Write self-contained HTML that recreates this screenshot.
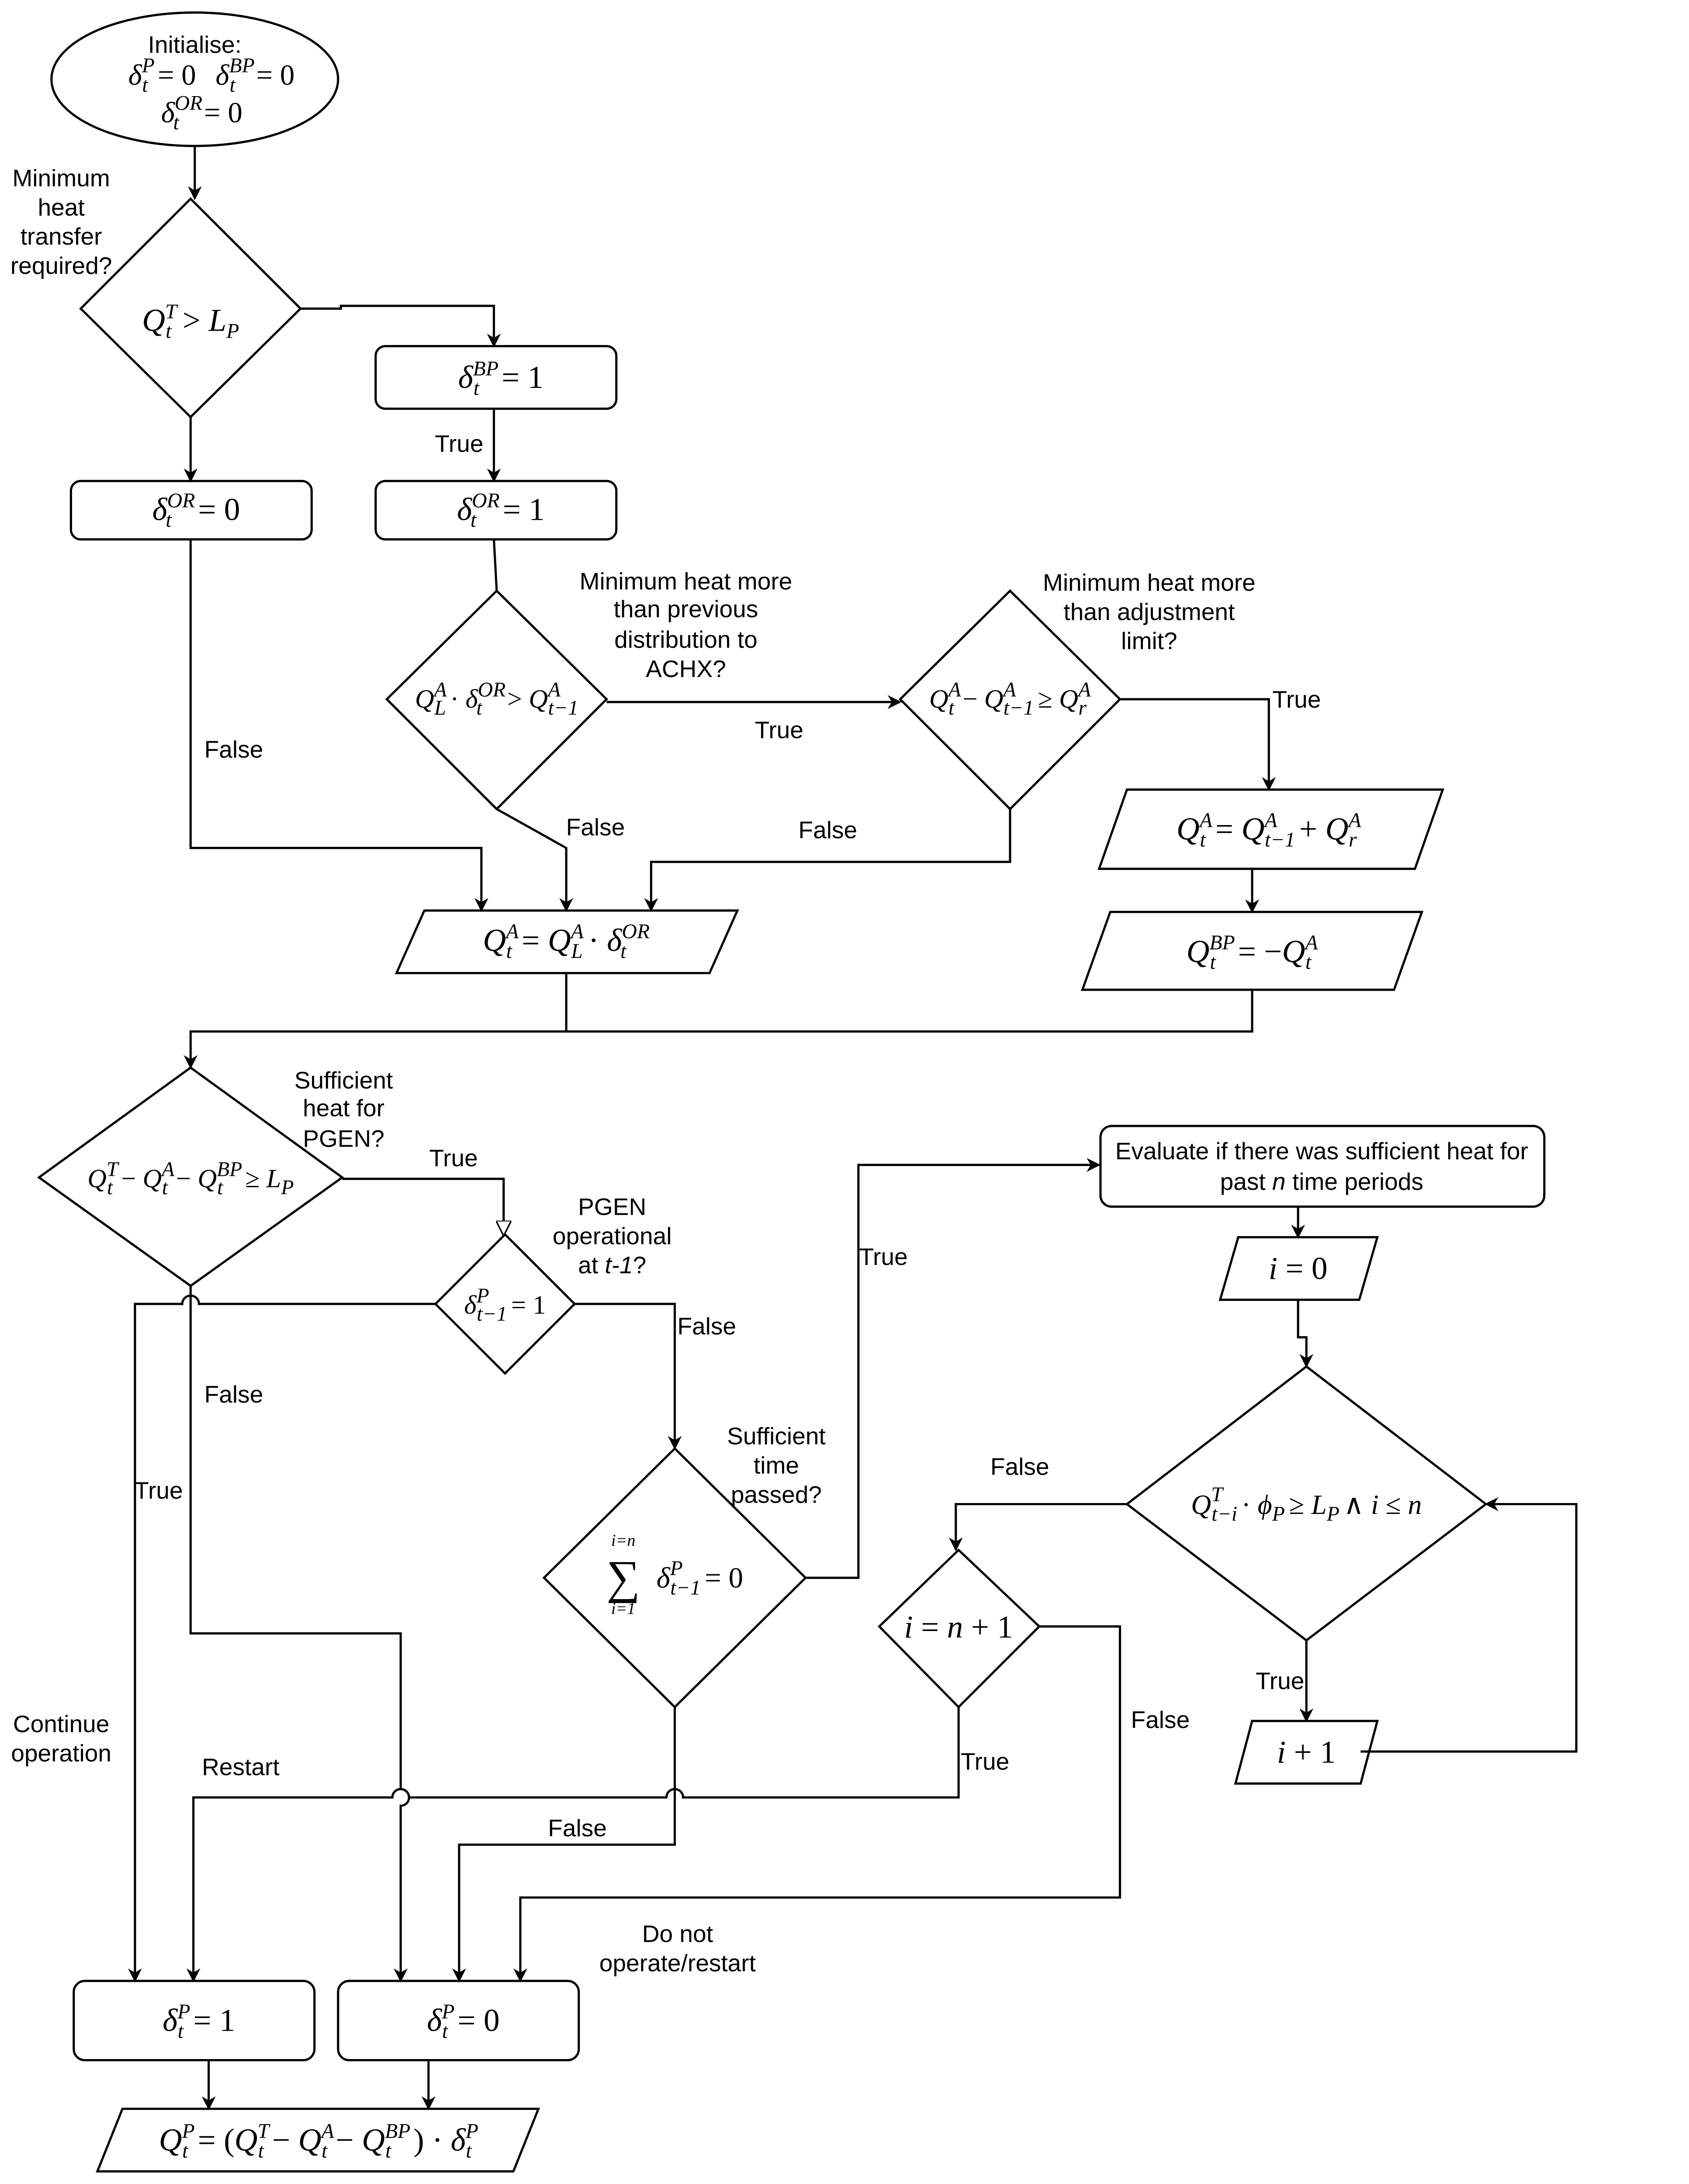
<!DOCTYPE html>
<html><head><meta charset="utf-8"><style>
html,body{margin:0;padding:0;background:#fff;width:3866px;height:5353px;overflow:hidden}
svg{display:block;width:3866px;height:5353px}
.t{font-family:"Liberation Sans",sans-serif;font-size:17.3px;fill:#000}
.m{font-family:"Liberation Serif",serif;font-style:italic;font-size:23px;fill:#000}
.n{font-style:normal}
.s{font-size:15px}
</style></head><body>
<svg width="3866" height="5353" viewBox="0 0 1214 1682" preserveAspectRatio="none" xmlns="http://www.w3.org/2000/svg">
<defs>
<marker id="a" viewBox="0 0 10 10" refX="9" refY="5" markerWidth="10" markerHeight="10" orient="auto" markerUnits="userSpaceOnUse"><path d="M0,0 L10,5 L0,10 L3,5 z" fill="#000"/></marker>
<marker id="h" viewBox="0 0 10 10" refX="9" refY="5" markerWidth="11" markerHeight="11" orient="auto" markerUnits="userSpaceOnUse"><path d="M0,0 L10,5 L0,10 z" fill="#fff" stroke="#000" stroke-width="1"/></marker>
</defs>
<g fill="none" stroke="#000" stroke-width="1.6">
<ellipse cx="140" cy="57" rx="103" ry="48" fill="#fff"/>
<polygon points="137,143 216,222 137,300 58,222" fill="#fff"/>
<rect x="270" y="249" width="173" height="45" rx="7" fill="#fff"/>
<rect x="270" y="346" width="173" height="42" rx="7" fill="#fff"/>
<rect x="51" y="346" width="173" height="42" rx="7" fill="#fff"/>
<polygon points="357,425 436,503 357,582 278,503" fill="#fff"/>
<polygon points="726,425 805,503 726,582 647,503" fill="#fff"/>
<polygon points="810,568 1037,568 1017,625 790,625" fill="#fff"/>
<polygon points="798,656 1022,656 1002,712 778,712" fill="#fff"/>
<polygon points="305,655 530,655 510,700 285,700" fill="#fff"/>
<polygon points="137,768 246,847 137,925 28,847" fill="#fff"/>
<polygon points="363,888 413,938 363,988 313,938" fill="#fff"/>
<polygon points="485,1042 579,1135 485,1228 391,1135" fill="#fff"/>
<rect x="791" y="810" width="319" height="58" rx="8" fill="#fff"/>
<polygon points="890,890 990,890 977,935 877,935" fill="#fff"/>
<polygon points="939,983 1068,1082 939,1180 810,1082" fill="#fff"/>
<polygon points="900,1238 990,1238 978,1283 888,1283" fill="#fff"/>
<polygon points="689,1115 747,1170 689,1228 632,1170" fill="#fff"/>
<rect x="53" y="1425" width="173" height="57" rx="8" fill="#fff"/>
<rect x="243" y="1425" width="173" height="57" rx="8" fill="#fff"/>
<polygon points="88,1517 387,1517 369,1562 70,1562" fill="#fff"/>
<path d="M140,105 V143" marker-end="url(#a)"/>
<path d="M216,222 H245 V220 H355 V249" marker-end="url(#a)"/>
<path d="M355,294 V346" marker-end="url(#a)"/>
<path d="M137,300 V346" marker-end="url(#a)"/>
<path d="M137,388 V610 H346 V655" marker-end="url(#a)"/>
<path d="M355,388 L357,425"/>
<path d="M436,505 H647" marker-end="url(#a)"/>
<path d="M357,582 L407,610 V655" marker-end="url(#a)"/>
<path d="M726,582 V620 H468 V655" marker-end="url(#a)"/>
<path d="M805,503 H912 V568" marker-end="url(#a)"/>
<path d="M900,625 V656" marker-end="url(#a)"/>
<path d="M407,700 V742 M900,712 V742 H137 V768" marker-end="url(#a)"/>
<path d="M246,848 H362 V888" marker-end="url(#h)"/>
<path d="M313,938 H143 a6,6 0 0 0 -12,0 H97 V1425" marker-end="url(#a)"/>
<path d="M413,938 H485 V1042" marker-end="url(#a)"/>
<path d="M137,925 V1175 H288 V1287 a6,6 0 0 1 0,12 V1425" marker-end="url(#a)"/>
<path d="M579,1135 H617 V838 H790" marker-end="url(#a)"/>
<path d="M933,868 V890" marker-end="url(#a)"/>
<path d="M933,935 V962 H939 V983" marker-end="url(#a)"/>
<path d="M810,1082 H687 V1115" marker-end="url(#a)"/>
<path d="M939,1180 V1238" marker-end="url(#a)"/>
<path d="M978,1260 H1133 V1082 H1068" marker-end="url(#a)"/>
<path d="M747,1170 H805 V1365 H374 V1425" marker-end="url(#a)"/>
<path d="M689,1228 V1293 H491 a6,6 0 0 0 -12,0 H294 a6,6 0 0 0 -12,0 H139 V1425" marker-end="url(#a)"/>
<path d="M485,1228 V1327 H330 V1425" marker-end="url(#a)"/>
<path d="M150,1482 V1517" marker-end="url(#a)"/>
<path d="M308,1482 V1517" marker-end="url(#a)"/>
</g>
<g class="t" text-anchor="middle">
<text x="140" y="38">Initialise:</text>
<text x="44" y="134">Minimum</text><text x="44" y="155">heat</text><text x="44" y="176">transfer</text><text x="44" y="197">required?</text>
<text x="330" y="325">True</text>
<text x="168" y="545">False</text>
<text x="493" y="424">Minimum heat more</text><text x="493" y="444">than previous</text><text x="493" y="466">distribution to</text><text x="493" y="487">ACHX?</text>
<text x="826" y="425">Minimum heat more</text><text x="826" y="446">than adjustment</text><text x="826" y="467">limit?</text>
<text x="560" y="531">True</text>
<text x="932" y="509">True</text>
<text x="428" y="601">False</text>
<text x="595" y="603">False</text>
<text x="247" y="783">Sufficient</text><text x="247" y="803">heat for</text><text x="247" y="825">PGEN?</text>
<text x="326" y="839">True</text>
<text x="440" y="874">PGEN</text><text x="440" y="895">operational</text><text x="440" y="916">at <tspan font-style="italic">t-1</tspan>?</text>
<text x="508" y="960">False</text>
<text x="168" y="1009">False</text>
<text x="114" y="1078">True</text>
<text x="558" y="1039">Sufficient</text><text x="558" y="1060">time</text><text x="558" y="1081">passed?</text>
<text x="635" y="910">True</text>
<text x="950" y="834">Evaluate if there was sufficient heat for</text>
<text x="950" y="856">past <tspan font-style="italic">n</tspan> time periods</text>
<text x="733" y="1061">False</text>
<text x="920" y="1215">True</text>
<text x="834" y="1243">False</text>
<text x="708" y="1273">True</text>
<text x="415" y="1321">False</text>
<text x="44" y="1246">Continue</text><text x="44" y="1267">operation</text>
<text x="173" y="1277">Restart</text>
<text x="487" y="1397">Do not</text><text x="487" y="1418">operate/restart</text>
</g>
<g class="m" text-anchor="middle">
<text x="152" y="61" style="font-size:21px">δ<tspan class="s" dy="-9">P</tspan><tspan class="s" dx="-9" dy="14">t</tspan><tspan class="n" dx="7" dy="-5">= 0</tspan><tspan dx="14">δ</tspan><tspan class="s" dy="-9">BP</tspan><tspan class="s" dx="-18" dy="14">t</tspan><tspan class="n" dx="15" dy="-5">= 0</tspan></text>
<text x="145" y="88" style="font-size:21px">δ<tspan class="s" dy="-9">OR</tspan><tspan class="s" dx="-21" dy="14">t</tspan><tspan class="n" dx="18" dy="-5">= 0</tspan></text>
<text x="137" y="238">Q<tspan class="s" dy="-9">T</tspan><tspan class="s" dx="-8" dy="14">t</tspan><tspan class="n" dx="8" dy="-5">&gt; </tspan>L<tspan class="s" dy="5">P</tspan></text>
<text x="360" y="279">δ<tspan class="s" dy="-9">BP</tspan><tspan class="s" dx="-18" dy="14">t</tspan><tspan class="n" dx="16" dy="-5">= 1</tspan></text>
<text x="360" y="374">δ<tspan class="s" dy="-9">OR</tspan><tspan class="s" dx="-21" dy="14">t</tspan><tspan class="n" dx="19" dy="-5">= 1</tspan></text>
<text x="141" y="374">δ<tspan class="s" dy="-9">OR</tspan><tspan class="s" dx="-21" dy="14">t</tspan><tspan class="n" dx="19" dy="-5">= 0</tspan></text>
<text x="357" y="509" style="font-size:19px">Q<tspan class="s" dy="-8">A</tspan><tspan class="s" dx="-9" dy="13">L</tspan><tspan class="n" dx="3" dy="-5">· </tspan>δ<tspan class="s" dy="-8">OR</tspan><tspan class="s" dx="-21" dy="13">t</tspan><tspan class="n" dx="18" dy="-5">&gt; </tspan>Q<tspan class="s" dy="-8">A</tspan><tspan class="s" dx="-9" dy="13">t−1</tspan></text>
<text x="726" y="509" style="font-size:19px">Q<tspan class="s" dy="-8">A</tspan><tspan class="s" dx="-9" dy="13">t</tspan><tspan class="n" dx="6" dy="-5">− </tspan>Q<tspan class="s" dy="-8">A</tspan><tspan class="s" dx="-9" dy="13">t−1</tspan><tspan class="n" dx="3" dy="-5">≥ </tspan>Q<tspan class="s" dy="-8">A</tspan><tspan class="s" dx="-9" dy="13">r</tspan></text>
<text x="912" y="604">Q<tspan class="s" dy="-9">A</tspan><tspan class="s" dx="-9" dy="14">t</tspan><tspan class="n" dx="7" dy="-5">= </tspan>Q<tspan class="s" dy="-9">A</tspan><tspan class="s" dx="-9" dy="14">t−1</tspan><tspan class="n" dx="3" dy="-5">+ </tspan>Q<tspan class="s" dy="-9">A</tspan><tspan class="s" dx="-9" dy="14">r</tspan></text>
<text x="900" y="692">Q<tspan class="s" dy="-9">BP</tspan><tspan class="s" dx="-18" dy="14">t</tspan><tspan class="n" dx="16" dy="-5">= −</tspan>Q<tspan class="s" dy="-9">A</tspan><tspan class="s" dx="-9" dy="14">t</tspan></text>
<text x="407" y="684">Q<tspan class="s" dy="-9">A</tspan><tspan class="s" dx="-9" dy="14">t</tspan><tspan class="n" dx="7" dy="-5">= </tspan>Q<tspan class="s" dy="-9">A</tspan><tspan class="s" dx="-9" dy="14">L</tspan><tspan class="n" dx="4" dy="-5">· </tspan>δ<tspan class="s" dy="-9">OR</tspan><tspan class="s" dx="-21" dy="14">t</tspan></text>
<text x="137" y="854" style="font-size:19px">Q<tspan class="s" dy="-8">T</tspan><tspan class="s" dx="-8" dy="13">t</tspan><tspan class="n" dx="6" dy="-5">− </tspan>Q<tspan class="s" dy="-8">A</tspan><tspan class="s" dx="-9" dy="13">t</tspan><tspan class="n" dx="6" dy="-5">− </tspan>Q<tspan class="s" dy="-8">BP</tspan><tspan class="s" dx="-18" dy="13">t</tspan><tspan class="n" dx="16" dy="-5">≥ </tspan>L<tspan class="s" dy="5">P</tspan></text>
<text x="363" y="945" style="font-size:19px">δ<tspan class="s" dy="-8">P</tspan><tspan class="s" dx="-9" dy="13">t−1</tspan><tspan class="n" dx="3" dy="-5">= 1</tspan></text>
<text x="503" y="1142" style="font-size:21px">δ<tspan class="s" dy="-9">P</tspan><tspan class="s" dx="-9" dy="14">t−1</tspan><tspan class="n" dx="3" dy="-5">= 0</tspan></text>
<text x="448" y="1112" class="s" style="font-size:12px">i=n</text>
<text x="448" y="1161" class="s" style="font-size:12px">i=1</text>
<text x="939" y="1089" style="font-size:20px">Q<tspan class="s" dy="-9">T</tspan><tspan class="s" dx="-8" dy="14">t−i</tspan><tspan class="n" dx="3" dy="-5">· </tspan>ϕ<tspan class="s" dy="5">P</tspan><tspan class="n" dx="3" dy="-5">≥ </tspan>L<tspan class="s" dy="5">P</tspan><tspan class="n" dx="3" dy="-5">∧ </tspan>i<tspan class="n"> ≤ </tspan>n</text>
<text x="689" y="1178">i<tspan class="n"> = </tspan>n<tspan class="n"> + 1</tspan></text>
<text x="933" y="920">i<tspan class="n"> = 0</tspan></text>
<text x="939" y="1268">i<tspan class="n"> + 1</tspan></text>
<text x="143" y="1461">δ<tspan class="s" dy="-9">P</tspan><tspan class="s" dx="-9" dy="14">t</tspan><tspan class="n" dx="7" dy="-5">= 1</tspan></text>
<text x="333" y="1461">δ<tspan class="s" dy="-9">P</tspan><tspan class="s" dx="-9" dy="14">t</tspan><tspan class="n" dx="7" dy="-5">= 0</tspan></text>
<text x="229" y="1547">Q<tspan class="s" dy="-9">P</tspan><tspan class="s" dx="-9" dy="14">t</tspan><tspan class="n" dx="7" dy="-5">= (</tspan>Q<tspan class="s" dy="-9">T</tspan><tspan class="s" dx="-8" dy="14">t</tspan><tspan class="n" dx="6" dy="-5">− </tspan>Q<tspan class="s" dy="-9">A</tspan><tspan class="s" dx="-9" dy="14">t</tspan><tspan class="n" dx="6" dy="-5">− </tspan>Q<tspan class="s" dy="-9">BP</tspan><tspan class="s" dx="-18" dy="14">t</tspan><tspan class="n" dx="16" dy="-5">) · </tspan>δ<tspan class="s" dy="-9">P</tspan><tspan class="s" dx="-9" dy="14">t</tspan></text>
</g>
<text x="448" y="1146" class="m" style="font-size:34px" text-anchor="middle">∑</text>
</svg>
</body></html>
